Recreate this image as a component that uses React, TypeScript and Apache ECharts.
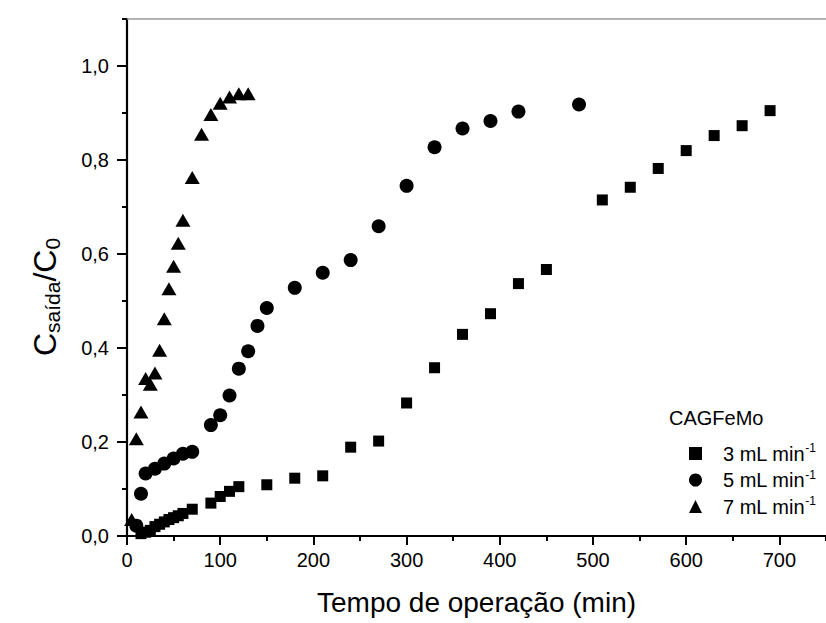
import React, { useEffect, useRef } from 'react';
import * as echarts from 'echarts';

// 3 mL min-1 (squares)
const t3 = [15, 20, 25, 30, 35, 40, 45, 50, 55, 60, 70, 90, 100, 110, 120, 150, 180, 210, 240, 270, 300, 330, 360, 390, 420, 450, 510, 540, 570, 600, 630, 660, 690];
const c3 = [0.005, 0.008, 0.012, 0.02, 0.025, 0.03, 0.035, 0.039, 0.043, 0.048, 0.057, 0.07, 0.084, 0.095, 0.105, 0.109, 0.123, 0.128, 0.189, 0.202, 0.283, 0.358, 0.429, 0.473, 0.537, 0.567, 0.715, 0.742, 0.782, 0.82, 0.852, 0.873, 0.905];

// 5 mL min-1 (circles)
const t5 = [10, 15, 20, 30, 40, 50, 60, 70, 90, 100, 110, 120, 130, 140, 150, 180, 210, 240, 270, 300, 330, 360, 390, 420, 485];
const c5 = [0.022, 0.09, 0.133, 0.143, 0.154, 0.165, 0.175, 0.179, 0.236, 0.257, 0.299, 0.356, 0.393, 0.447, 0.485, 0.528, 0.56, 0.587, 0.659, 0.745, 0.827, 0.867, 0.883, 0.903, 0.918];

// 7 mL min-1 (triangles)
const t7 = [5, 10, 15, 20, 25, 30, 35, 40, 45, 50, 55, 60, 70, 80, 90, 100, 110, 120, 130];
const c7 = [0.035, 0.207, 0.264, 0.335, 0.323, 0.347, 0.395, 0.4625, 0.526, 0.574, 0.623, 0.672, 0.763, 0.855, 0.897, 0.921, 0.934, 0.941, 0.941];

const seriesNames = ['3 mL min-1', '5 mL min-1', '7 mL min-1'];
const legendTitle = 'CAGFeMo';
const xTitle = 'Tempo de operação (min)';

const xMajorTicks = [0, 100, 200, 300, 400, 500, 600, 700];
const xMinorTicks = [50, 150, 250, 350, 450, 550, 650, 750];
const yMajorTicks = [0, 0.2, 0.4, 0.6, 0.8, 1.0];
const yMinorTicks = [0.1, 0.3, 0.5, 0.7, 0.9, 1.1];

const zip = (xs: number[], ys: number[]) => xs.map((x, i) => [x, ys[i]]);

export default function App() {
  const ref = useRef<HTMLDivElement>(null);
  useEffect(() => {
    const chart = echarts.init(ref.current!, null, { renderer: 'svg' });
    const font = "'Liberation Sans', Arial, sans-serif";
    const fmt = (v: number) => v.toFixed(1).replace('.', ',');
    const black = '#000';
    const hideAll = { show: false };
    const mark = { color: black, opacity: 1 };
    chart.setOption({
      animation: false,
      backgroundColor: '#fff',
      textStyle: { fontFamily: font, color: black },
      grid: { left: 127, top: 19, right: -5, bottom: 87, containLabel: false },
      xAxis: [
        {
          type: 'value', min: 0, max: 750, position: 'bottom',
          axisLine: { onZero: false, lineStyle: { color: black, width: 2 } },
          axisTick: { customValues: xMajorTicks, length: 9, lineStyle: { color: black, width: 2 } },
          axisLabel: { customValues: xMajorTicks, fontSize: 20, color: black, margin: 14, fontFamily: font },
          splitLine: hideAll,
          name: xTitle, nameLocation: 'middle', nameGap: 52,
          nameTextStyle: { fontSize: 28, color: black, fontFamily: font },
        },
        {
          type: 'value', min: 0, max: 750, position: 'bottom',
          axisLine: { show: false, onZero: false },
          axisTick: { customValues: xMinorTicks, length: 5, lineStyle: { color: black, width: 2 } },
          axisLabel: hideAll, splitLine: hideAll,
        },
        {
          type: 'value', min: 0, max: 750, position: 'top',
          axisLine: { onZero: false, lineStyle: { color: '#9a9a9a', width: 1.5 } },
          axisTick: hideAll, axisLabel: hideAll, splitLine: hideAll,
        },
      ],
      yAxis: [
        {
          type: 'value', min: 0, max: 1.1, position: 'left',
          axisLine: { onZero: false, lineStyle: { color: black, width: 2.2 } },
          axisTick: { customValues: yMajorTicks, length: 10, lineStyle: { color: black, width: 2 } },
          axisLabel: { customValues: yMajorTicks, formatter: fmt, fontSize: 20, color: black, margin: 18, fontFamily: font },
          splitLine: hideAll,
        },
        {
          type: 'value', min: 0, max: 1.1, position: 'left',
          axisLine: { show: false, onZero: false },
          axisTick: { customValues: yMinorTicks, length: 5, lineStyle: { color: black, width: 2 } },
          axisLabel: hideAll, splitLine: hideAll,
        },
      ],
      legend: {
        orient: 'vertical', left: 684, top: 437, itemWidth: 13, itemHeight: 13, itemGap: 5,
        itemStyle: { opacity: 1 },
        data: [
          { name: seriesNames[0], icon: 'rect' },
          { name: seriesNames[1], icon: 'circle' },
          { name: seriesNames[2], icon: 'triangle' },
        ],
        formatter: (name: string) => {
          const num = name.split(' ')[0];
          return `{sp| }{n|${num} mL min}{s|-1}`;
        },
        textStyle: {
          rich: {
            sp: { width: 16 },
            n: { fontSize: 20, lineHeight: 23, color: black, fontFamily: font },
            s: { fontSize: 12, lineHeight: 12, verticalAlign: 'top', color: black, fontFamily: font },
          },
        },
      },
      graphic: [
        {
          type: 'text', left: 669, top: 408,
          style: { text: legendTitle, fontSize: 20, fontFamily: font, fill: black },
        },
        {
          type: 'text', x: 45, y: 297, rotation: Math.PI / 2,
          style: {
            text: '{a|C}{s|saída}{a|/C}{s|0}',
            align: 'center', verticalAlign: 'middle', fill: black,
            rich: {
              a: { fontSize: 32, lineHeight: 36, fontFamily: font, fill: black },
              s: { fontSize: 21, lineHeight: 17, verticalAlign: 'bottom', fontFamily: font, fill: black },
            },
          },
        },
      ],
      series: [
        {
          name: seriesNames[0], type: 'scatter', symbol: 'rect', symbolSize: 11,
          itemStyle: mark, data: zip(t3, c3),
        },
        {
          name: seriesNames[1], type: 'scatter', symbol: 'circle', symbolSize: 14,
          itemStyle: mark, data: zip(t5, c5),
        },
        {
          name: seriesNames[2], type: 'scatter', symbol: 'triangle', symbolSize: [15, 13],
          itemStyle: mark, data: zip(t7, c7),
        },
      ],
    });
    return () => chart.dispose();
  }, []);
  return (
    <div style={{ position: 'absolute', left: 0, top: 0, width: 826, height: 623, overflow: 'hidden' }}>
      <div ref={ref} style={{ width: 826, height: 623 }} />
    </div>
  );
}
